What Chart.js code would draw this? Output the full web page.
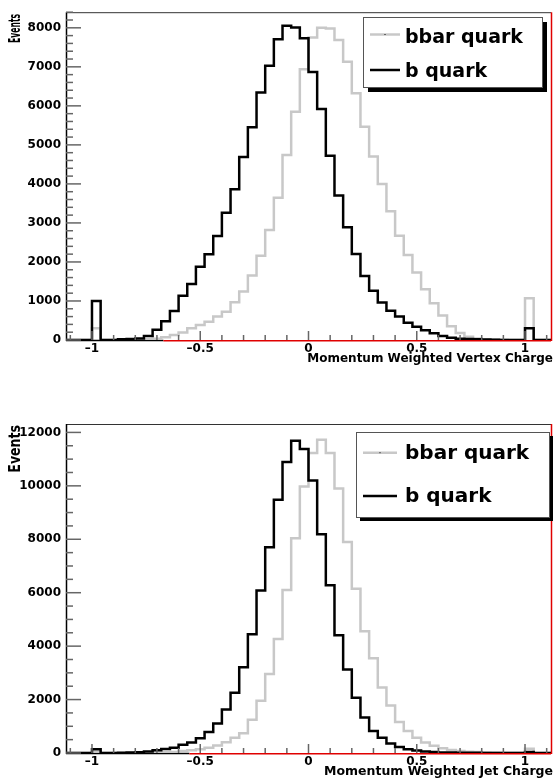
<!DOCTYPE html>
<html>
<head>
<meta charset="utf-8">
<script src="https://cdn.jsdelivr.net/npm/chart.js@4.4.1/dist/chart.umd.min.js"></script>
<style>
html, body { margin: 0; padding: 0; background: #fff; }
body { width: 556px; height: 784px; position: relative; overflow: hidden; }
canvas { position: absolute; left: 0; }
#vtxChart { top: 0; }
#jetChart { top: 390px; }
</style>
</head>
<body>
<canvas id="vtxChart" width="556" height="372"></canvas>
<canvas id="jetChart" width="556" height="394"></canvas>
<script>
// Histogram binning (same for both pads): 56 bins of 0.04
const BIN_LO = -1.12;
const BIN_HI = 1.12;
const BIN_W = 0.04;

const xTicks = [-1, -0.5, 0, 0.5, 1];
const vtxYTicks = [0, 1000, 2000, 3000, 4000, 5000, 6000, 7000, 8000];
const jetYTicks = [0, 2000, 4000, 6000, 8000, 10000, 12000];

const seriesLabels = ['bbar quark', 'b quark'];
const vtxTitle = 'Momentum Weighted Vertex Charge';
const jetTitle = 'Momentum Weighted Jet Charge';

// Vertex charge, bin contents from left (-1.12) to right (1.12)
const vtxBbar = [
    0, 0, 0, 300, 0, 0, 5, 10, 15, 20,
    30, 70, 130, 190, 300, 385, 470, 600, 725, 965,
    1240, 1650, 2160, 2820, 3645, 4740, 5850, 6940, 7750, 8000,
    7980, 7690, 7130, 6320, 5465, 4700, 4000, 3300, 2670, 2180,
    1730, 1300, 940, 630, 355, 180, 85, 40, 20, 10,
    5, 0, 0, 1070, 0, 0
];
const vtxB = [
    0, 0, 0, 1000, 0, 0, 20, 25, 40, 105,
    260, 480, 745, 1135, 1435, 1880, 2200, 2665, 3260, 3860,
    4690, 5450, 6345, 7030, 7710, 8050, 8010, 7730, 6870, 5920,
    4720, 3700, 2890, 2205, 1640, 1260, 960, 750, 600, 440,
    340, 250, 170, 100, 60, 35, 25, 20, 10, 5,
    0, 0, 0, 300, 0, 0
];

// Jet charge
const jetBbar = [
    0, 0, 0, 40, 0, 0, 0, 5, 5, 10,
    15, 25, 40, 75, 100, 140, 200, 280, 400, 570,
    740, 1240, 1960, 2960, 4270, 6100, 8040, 9975, 11225, 11725,
    11225, 9900, 7900, 6150, 4560, 3550, 2450, 1780, 1160, 820,
    570, 390, 270, 175, 115, 75, 45, 35, 25, 15,
    10, 5, 5, 160, 0, 0
];
const jetB = [
    0, 0, 0, 140, 0, 0, 5, 20, 30, 55,
    100, 150, 200, 305, 390, 550, 790, 1100, 1625, 2255,
    3210, 4445, 6085, 7700, 9480, 10890, 11690, 11375, 10200, 8190,
    6275, 4410, 3130, 2070, 1330, 825, 570, 360, 225, 140,
    90, 55, 35, 20, 15, 10, 5, 5, 0, 0,
    0, 0, 0, 40, 0, 0
];

const FONT = '"DejaVu Sans", "Liberation Sans", sans-serif';
Chart.defaults.font.family = FONT;

// left edge of every bin, plus the closing right edge
function histPoints(vals) {
    const pts = vals.map((v, i) => ({ x: BIN_LO + i * BIN_W, y: v }));
    pts.push({ x: BIN_HI, y: vals[vals.length - 1] });
    return pts;
}

function seg(ctx, x0, y0, x1, y1) {
    ctx.beginPath();
    ctx.moveTo(x0, y0);
    ctx.lineTo(x1, y1);
    ctx.stroke();
}

function fmtX(v) {
    if (v === 0) return '0';
    return v < 0 ? '\u2013' + String(-v) : String(v);
}

// ROOT-like frame, inner ticks, legend box and axis titles
function rootPad(p) {
    return {
        id: 'rootPad',
        beforeDatasetsDraw(chart) {
            const ctx = chart.ctx;
            const a = chart.chartArea;
            const redX = chart.scales.x.getPixelForValue(p.redFrom);
            ctx.save();
            ctx.strokeStyle = '#333';
            ctx.lineWidth = 1;
            seg(ctx, a.left, a.top + 0.5, a.right, a.top + 0.5);
            ctx.strokeStyle = '#000';
            ctx.lineWidth = 1.5;
            seg(ctx, a.left + 0.5, a.top, a.left + 0.5, a.bottom + 1);
            seg(ctx, a.left, a.bottom + 0.5, redX, a.bottom + 0.5);
            ctx.strokeStyle = '#e00000';
            seg(ctx, redX, a.bottom + 0.75, a.right, a.bottom + 0.75);
            ctx.restore();
        },
        afterDatasetsDraw(chart) {
            const ctx = chart.ctx;
            const a = chart.chartArea;
            const xs = chart.scales.x;
            const ys = chart.scales.y;
            ctx.save();

            // ticks pointing into the pad
            ctx.strokeStyle = '#666';
            ctx.lineWidth = 1.5;
            for (let k = -11; k <= 11; k++) {
                const px = xs.getPixelForValue(k / 10);
                const len = k % 5 === 0 ? p.xMajorLen : p.xMinorLen;
                seg(ctx, px, a.bottom, px, a.bottom - len);
            }
            for (let v = 0; v <= ys.max; v += p.yMinor) {
                const py = ys.getPixelForValue(v);
                const len = v % p.yMajor === 0 ? 15 : 7;
                seg(ctx, a.left, py, a.left + len, py);
            }

            // red right edge
            ctx.strokeStyle = '#e00000';
            ctx.lineWidth = 1.5;
            seg(ctx, a.right + 0.5, a.top, a.right + 0.5, a.bottom + 1);

            // legend with drop shadow
            const L = p.legend;
            ctx.fillStyle = '#000';
            ctx.fillRect(L.x + L.shadow, L.y + L.shadow, L.w, L.h);
            ctx.fillStyle = '#fff';
            ctx.fillRect(L.x, L.y, L.w, L.h);
            ctx.strokeStyle = '#555';
            ctx.lineWidth = 1;
            ctx.strokeRect(L.x + 0.5, L.y + 0.5, L.w, L.h);
            const order = [1, 0]; // bbar first, then b
            ctx.font = 'bold ' + L.size + 'px ' + FONT;
            ctx.textAlign = 'left';
            ctx.textBaseline = 'alphabetic';
            order.forEach((di, row) => {
                const ds = chart.data.datasets[di];
                ctx.strokeStyle = ds.borderColor;
                ctx.lineWidth = 2.5;
                seg(ctx, L.lineX0, L.lineY[row], L.lineX1, L.lineY[row]);
                if (di === 1) {
                    ctx.fillStyle = '#666';
                    ctx.fillRect((L.lineX0 + L.lineX1) / 2 - 1, L.lineY[row] - 0.5, 2, 1);
                }
                ctx.fillStyle = '#000';
                ctx.fillText(ds.label, L.textX, L.base[row]);
            });

            // x title, right aligned under the axis
            ctx.font = 'bold ' + p.xTitleSize + 'px ' + FONT;
            ctx.textAlign = 'right';
            ctx.fillStyle = '#000';
            ctx.fillText(p.xTitle, a.right + 2, a.bottom + 21.5);

            // y title, rotated at the top of the axis
            ctx.font = 'bold 16px ' + FONT;
            const w = ctx.measureText('Events').width;
            ctx.translate(16, a.top + p.yTitleOff);
            ctx.rotate(-Math.PI / 2);
            ctx.scale(p.yTitleLen / w, 1);
            ctx.textAlign = 'right';
            ctx.textBaseline = 'middle';
            ctx.fillText('Events', 0, 0);
            ctx.restore();
        }
    };
}

function makePanel(id, p) {
    const tickFont = { size: 12, weight: 'bold', family: FONT };
    return new Chart(document.getElementById(id), {
        type: 'line',
        data: {
            datasets: [
                {
                    label: seriesLabels[1],
                    data: histPoints(p.b),
                    borderColor: '#000000',
                    borderWidth: 2.5,
                    stepped: true,
                    pointRadius: 0,
                    fill: false
                },
                {
                    label: seriesLabels[0],
                    data: histPoints(p.bbar),
                    borderColor: '#c8c8c8',
                    borderWidth: 2.5,
                    stepped: true,
                    pointRadius: 0,
                    fill: false
                }
            ]
        },
        options: {
            responsive: false,
            animation: false,
            events: [],
            layout: { padding: { top: p.padTop, right: 5, left: 0, bottom: 0 } },
            plugins: {
                legend: { display: false },
                tooltip: { enabled: false }
            },
            scales: {
                x: {
                    type: 'linear',
                    min: BIN_LO,
                    max: BIN_HI,
                    grid: { display: false, drawTicks: false },
                    border: { display: false },
                    afterBuildTicks: s => { s.ticks = xTicks.map(v => ({ value: v })); },
                    afterFit: s => { s.height = p.xAxisH; },
                    ticks: {
                        font: tickFont,
                        color: '#000',
                        padding: 2,
                        maxRotation: 0,
                        autoSkip: false,
                        callback: v => fmtX(v)
                    }
                },
                y: {
                    type: 'linear',
                    min: 0,
                    max: p.yMax,
                    grid: { display: false, drawTicks: false },
                    border: { display: false },
                    afterBuildTicks: s => { s.ticks = p.yTicks.map(v => ({ value: v })); },
                    afterFit: s => { s.width = 66; },
                    ticks: {
                        font: tickFont,
                        color: '#000',
                        padding: 5,
                        autoSkip: false,
                        callback: v => String(v)
                    }
                }
            }
        },
        plugins: [rootPad(p)]
    });
}

makePanel('vtxChart', {
    b: vtxB,
    bbar: vtxBbar,
    yTicks: vtxYTicks,
    yMax: 8400,
    yMajor: 1000,
    yMinor: 200,
    padTop: 11,
    xAxisH: 32,
    xMajorLen: 9,
    xMinorLen: 5,
    redFrom: -0.67,
    xTitle: vtxTitle,
    xTitleSize: 12,
    yTitleOff: 1.7,
    yTitleLen: 29,
    legend: {
        x: 363, y: 17, w: 179, h: 70, shadow: 5, size: 19,
        lineX0: 370, lineX1: 400, lineY: [34.5, 70], textX: 405, base: [42.5, 76.5]
    }
});

makePanel('jetChart', {
    b: jetB,
    bbar: jetBbar,
    yTicks: jetYTicks,
    yMax: 12315,
    yMajor: 2000,
    yMinor: 500,
    padTop: 34,
    xAxisH: 31,
    xMajorLen: 9,
    xMinorLen: 5,
    redFrom: -0.55,
    xTitle: jetTitle,
    xTitleSize: 12.5,
    yTitleOff: 1,
    yTitleLen: 47.7,
    legend: {
        x: 356, y: 42, w: 193, h: 85, shadow: 4, size: 20,
        lineX0: 363, lineX1: 397, lineY: [62.7, 106], textX: 405, base: [69.3, 111.7]
    }
});
</script>
</body>
</html>
